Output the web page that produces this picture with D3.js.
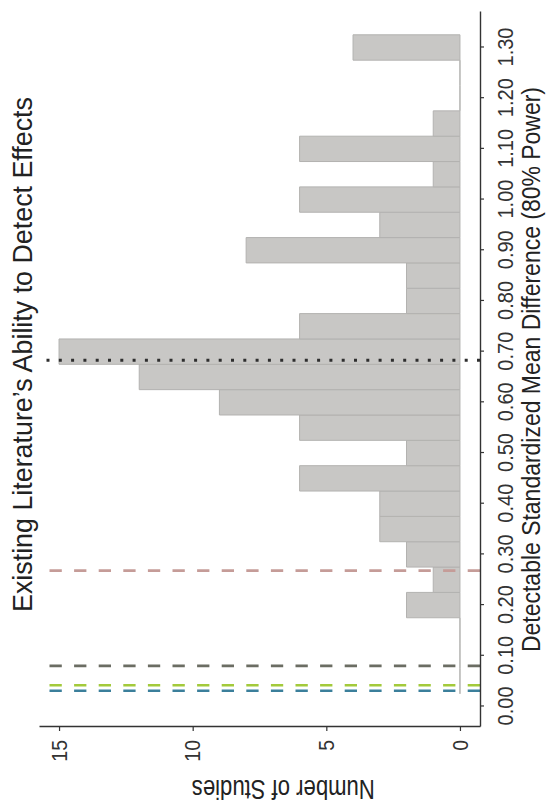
<!DOCTYPE html>
<html>
<head>
<meta charset="utf-8">
<script src="https://cdn.jsdelivr.net/npm/d3@7"></script>
<style>
  html, body { margin: 0; padding: 0; background: #fff; }
  svg { display: block; }
</style>
</head>
<body>
<svg id="chart" width="548" height="809"></svg>
<script>
// Histogram bins (centre of each 0.05-wide bin) and number of studies per bin
const binCenters = [0.05, 0.10, 0.15, 0.20, 0.25, 0.30, 0.35, 0.40, 0.45, 0.50,
                    0.55, 0.60, 0.65, 0.70, 0.75, 0.80, 0.85, 0.90, 0.95, 1.00,
                    1.05, 1.10, 1.15, 1.20, 1.25, 1.30];
const studyCounts = [0, 0, 0, 2, 1, 2, 3, 3, 6, 2,
                     6, 9, 12, 15, 6, 2, 2, 8, 3, 6,
                     1, 6, 1, 0, 0, 4];
const binWidth = 0.05;

// Reference effect sizes (dashed) and the median detectable effect (dotted)
const refValues = [0.031, 0.042, 0.080, 0.268];
const refColors = ["#3b7f9b", "#a3ca3b", "#6b6d63", "#c59c98"];
const medianDetectable = 0.683;

// Axis ticks
const valueTicks = [0.0, 0.1, 0.2, 0.3, 0.4, 0.5, 0.6, 0.7, 0.8, 0.9, 1.0, 1.1, 1.2, 1.3];
const countTicks = [0, 5, 10, 15];

const titleText = "Existing Literature\u2019s Ability to Detect Effects";
const xTitleText = "Detectable Standardized Mean Difference (80% Power)";
const yTitleText = "Number of Studies";

const fontFamily = "'Liberation Sans Narrow', 'Liberation Sans', Arial, sans-serif";

const svg = d3.select("#chart");

// The plot is laid out landscape (809 x 548) and turned a quarter-turn counterclockwise
const g = svg.append("g").attr("transform", "translate(0,809) rotate(-90)");

const x = d3.scaleLinear().domain([-0.0405, 1.37]).range([82, 797]);
const y = d3.scaleLinear().domain([-0.75, 15.75]).range([480, 39]);

// Bars (empty bins collapse to a flat outline on the baseline)
const bins = binCenters.map((c, i) => ({ c, n: studyCounts[i] }));
g.append("g")
  .selectAll("path")
  .data(bins)
  .join("path")
  .attr("d", d => {
    const p = d3.path();
    const x0 = x(d.c - binWidth / 2), x1 = x(d.c + binWidth / 2);
    const y0 = y(0), y1 = y(d.n);
    p.moveTo(x0, y0);
    p.lineTo(x0, y1);
    p.lineTo(x1, y1);
    p.lineTo(x1, y0);
    p.closePath();
    return p.toString();
  })
  .attr("fill", "#c8c7c5")
  .attr("stroke", "#b3b2b0")
  .attr("stroke-width", 1);

// Reference lines
g.append("g")
  .selectAll("line")
  .data(refValues.map((v, i) => ({ v, color: refColors[i] })))
  .join("line")
  .attr("x1", d => x(d.v))
  .attr("x2", d => x(d.v))
  .attr("y1", y.range()[0])
  .attr("y2", y.range()[1])
  .attr("stroke", d => d.color)
  .attr("stroke-width", 2.6)
  .attr("stroke-dasharray", "12.3 12.3");

g.append("line")
  .attr("x1", x(medianDetectable))
  .attr("x2", x(medianDetectable))
  .attr("y1", y.range()[0])
  .attr("y2", y.range()[1])
  .attr("stroke", "#2e2e2e")
  .attr("stroke-width", 3)
  .attr("stroke-dasharray", "3 9.3");

// Value axis
const xAxis = d3.axisBottom(x)
  .tickValues(valueTicks)
  .tickFormat(d3.format(".2f"))
  .tickSizeInner(4)
  .tickSizeOuter(0)
  .tickPadding(13);
const gx = g.append("g").attr("transform", `translate(0,${y.range()[0]})`).call(xAxis);
gx.select(".domain").attr("stroke", "#333").attr("stroke-width", 1.4);
gx.selectAll(".tick line").attr("stroke", "#333").attr("stroke-width", 1.2);
gx.selectAll(".tick text")
  .attr("fill", "#333")
  .style("font-family", fontFamily)
  .style("font-size", "22px")
  .attr("textLength", 39)
  .attr("lengthAdjust", "spacingAndGlyphs");

// Count axis
const yAxis = d3.axisLeft(y)
  .tickValues(countTicks)
  .tickSizeInner(4)
  .tickSizeOuter(0)
  .tickPadding(9);
const gy = g.append("g").attr("transform", `translate(${x.range()[0]},0)`).call(yAxis);
gy.select(".domain").attr("stroke", "#333").attr("stroke-width", 1.4);
gy.selectAll(".tick line").attr("stroke", "#333").attr("stroke-width", 1.2);
gy.selectAll(".tick text")
  .attr("fill", "#333")
  .style("font-family", fontFamily)
  .style("font-size", "22px")
  .attr("textLength", d => 10.85 * String(d).length)
  .attr("lengthAdjust", "spacingAndGlyphs");

// Titles
g.append("text")
  .attr("x", 454.5)
  .attr("y", 31.7)
  .attr("text-anchor", "middle")
  .attr("fill", "#222")
  .style("font-family", fontFamily)
  .style("font-size", "28px")
  .attr("textLength", 515)
  .attr("lengthAdjust", "spacingAndGlyphs")
  .text(titleText);

// value-axis title, centred on the panel
g.append("text")
  .attr("x", (x.range()[0] + x.range()[1]) / 2)
  .attr("y", 540)
  .attr("text-anchor", "middle")
  .attr("fill", "#222")
  .style("font-family", fontFamily)
  .style("font-size", "25px")
  .attr("textLength", 565)
  .attr("lengthAdjust", "spacingAndGlyphs")
  .text(xTitleText);

g.append("text")
  .attr("transform", "translate(29,283.3) rotate(-90)")
  .attr("text-anchor", "middle")
  .attr("fill", "#222")
  .style("font-family", fontFamily)
  .style("font-size", "28px")
  .attr("textLength", 183)
  .attr("lengthAdjust", "spacingAndGlyphs")
  .text(yTitleText);
</script>
</body>
</html>
